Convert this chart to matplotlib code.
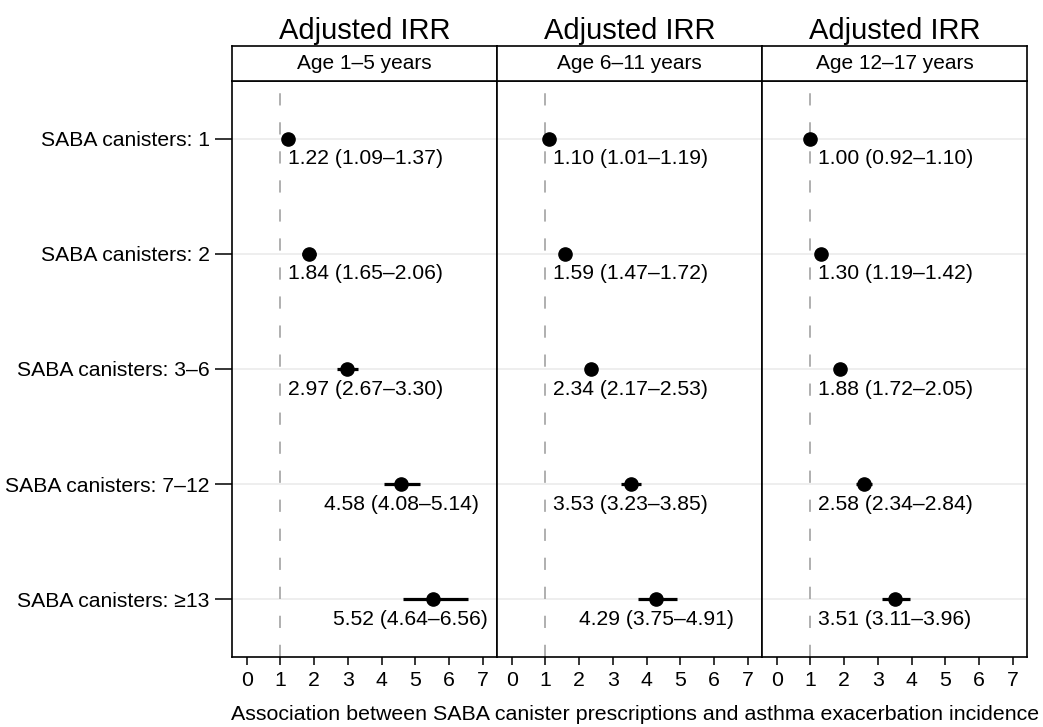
import numpy as np
import matplotlib
matplotlib.use('Agg')
import matplotlib.pyplot as plt

plt.rcParams['font.family'] = ['Liberation Sans', 'DejaVu Sans']

# data
row_labels = ['SABA canisters: 1', 'SABA canisters: 2', 'SABA canisters: 3\u20136',
              'SABA canisters: 7\u201312', 'SABA canisters: \u226513']
panel_titles = ['Age 1\u20135 years', 'Age 6\u201311 years', 'Age 12\u201317 years']

irr_1_5 = [1.22, 1.84, 2.97, 4.58, 5.52]
lo_1_5 = [1.09, 1.65, 2.67, 4.08, 4.64]
hi_1_5 = [1.37, 2.06, 3.30, 5.14, 6.56]

irr_6_11 = [1.10, 1.59, 2.34, 3.53, 4.29]
lo_6_11 = [1.01, 1.47, 2.17, 3.23, 3.75]
hi_6_11 = [1.19, 1.72, 2.53, 3.85, 4.91]

irr_12_17 = [1.00, 1.30, 1.88, 2.58, 3.51]
lo_12_17 = [0.92, 1.19, 1.72, 2.34, 3.11]
hi_12_17 = [1.10, 1.42, 2.05, 2.84, 3.96]

xticks = [0, 1, 2, 3, 4, 5, 6, 7]
xlabel = 'Association between SABA canister prescriptions and asthma exacerbation incidence'

panels = [(irr_1_5, lo_1_5, hi_1_5),
          (irr_6_11, lo_6_11, hi_6_11),
          (irr_12_17, lo_12_17, hi_12_17)]

W, H = 1043, 727
fig = plt.figure(figsize=(W / 100, H / 100), dpi=100)

left_px, pan_w = 232, 265
top_px, bot_px = 81, 657
strip_h = 35
xlim = (-0.44, 7.43)
ypos = np.arange(1, len(row_labels) + 1)

axes = []
for i, (est, lo, hi) in enumerate(panels):
    x0 = left_px + i * pan_w
    ax = fig.add_axes([x0 / W, (H - bot_px) / H, pan_w / W, (bot_px - top_px) / H])
    axes.append(ax)
    ax.set_xlim(*xlim)
    ax.set_ylim(len(row_labels) + 0.5, 0.5)
    ax.axvline(1, color='#9a9a9a', lw=1.1, linestyle=(0, (8, 11)), zorder=1)
    ax.set_yticks(ypos)
    ax.grid(axis='y', color='#ebebeb', lw=1.2, zorder=0)
    ax.set_axisbelow(True)
    ax.hlines(ypos, lo, hi, color='black', lw=2.3, zorder=3)
    ax.plot(est, ypos, 'o', color='black', markersize=9.5, zorder=4)
    ax.set_xticks(xticks)
    ax.tick_params(axis='x', direction='out', length=6, width=1.1, labelsize=15.3, pad=4)
    if i == 0:
        ax.set_yticklabels(row_labels)
        ax.tick_params(axis='y', direction='out', length=12, width=1.1, labelsize=15.2, pad=4)
    else:
        ax.tick_params(axis='y', length=0, labelleft=False)
    for s in ax.spines.values():
        s.set_linewidth(1.2)
        s.set_color('black')

    # strip header with title
    sax = fig.add_axes([x0 / W, (H - top_px) / H, pan_w / W, strip_h / H])
    sax.set_xticks([])
    sax.set_yticks([])
    for s in sax.spines.values():
        s.set_linewidth(1.2)
    sax.text(0.5, 0.5, panel_titles[i], ha='center', va='center', fontsize=15,
             transform=sax.transAxes)
    sax.set_title('Adjusted IRR', fontsize=21, pad=5)

# value labels: centred under the point, kept between the reference line and the frame
fig.canvas.draw()
renderer = fig.canvas.get_renderer()
for ax, (est, lo, hi) in zip(axes, panels):
    to_px = ax.transData
    left_lim = to_px.transform((1, 0))[0] + 8
    right_lim = to_px.transform((xlim[1], 0))[0] - 9
    for y, e, l, h in zip(ypos, est, lo, hi):
        t = ax.annotate('{:.2f} ({:.2f}\u2013{:.2f})'.format(e, l, h), xy=(e, y),
                        xytext=(0, -14.5), textcoords='offset points',
                        ha='center', va='center', fontsize=15.2, zorder=5)
        w = t.get_window_extent(renderer).width
        cx = to_px.transform((e, y))[0]
        new_cx = min(max(cx, left_lim + w / 2), right_lim - w / 2)
        t.xyann = ((new_cx - cx) * 72 / fig.dpi, -14.5)

mid = (left_px + 1.5 * pan_w + 6) / W
fig.text(mid, (H - 715) / H, xlabel, ha='center', va='center', fontsize=15.4)

fig.savefig('out.png', dpi=100)
